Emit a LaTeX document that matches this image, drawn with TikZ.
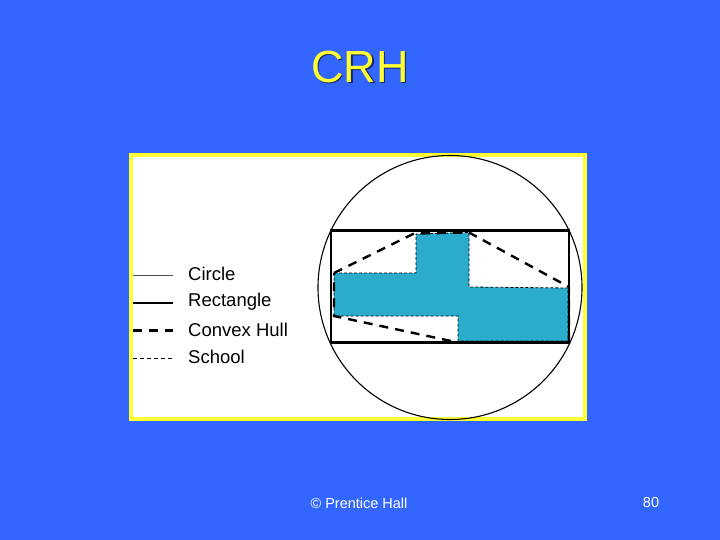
\documentclass[tikz,border=0pt]{standalone}
\usepackage{fontspec}
\setmainfont{Liberation Sans}
\definecolor{bg}{RGB}{51,102,255}
\definecolor{frameyellow}{RGB}{255,255,51}
\definecolor{school}{RGB}{43,172,204}
\begin{document}
\begin{tikzpicture}[x=1pt,y=-1pt,
  circ/.style={draw=black,line width=1.1pt},
  rectline/.style={draw=black,line width=2.6pt},
  hull/.style={draw=black,line width=2.4pt,dash pattern=on 9pt off 7pt},
  schoolline/.style={draw=black,line width=0.8pt,dash pattern=on 3pt off 2pt},
  legtext/.style={anchor=west,inner sep=0pt,font=\fontsize{18.5}{22}\selectfont},
  foot/.style={text=white,font=\fontsize{14.5}{17}\selectfont}]
\useasboundingbox (0,0) rectangle (720,540);
\fill[bg] (0,0) rectangle (720,540);
% title
\node[text=black!60!bg,font=\fontsize{45}{52}\selectfont] at (361.5,68.5) {CRH};
\node[text=frameyellow,font=\fontsize{45}{52}\selectfont] (title) at (360,67) {CRH};
% frame
\draw[fill=white,draw=frameyellow,line width=4pt] (131,155) rectangle (585,419);
% circle
\draw[circ] (450,287.5) circle (132);
% school shape
\fill[school] (334,273) -- (416,273) -- (416,234) -- (469,232.5) -- (469,287) -- (568,288) -- (568,341) -- (458,341) -- (458,316) -- (334,316) -- cycle;
\draw[schoolline] (334,273) -- (416,273) -- (416,234) -- (469,232.5) -- (469,287) -- (568,288) -- (568,341) -- (458,341) -- (458,316) -- (334,316) -- cycle;
% convex hull
\draw[hull] (334,273) -- (414,233.5) -- (469,232.5) -- (569,287) -- (569,342.5) -- (458,342.5) -- (334,316) -- cycle;
% rectangle
\draw[rectline] (331,230.5) rectangle (569,342.5);
% legend
\draw[draw=black!70,line width=0.9pt] (133,275) -- (173,275);
\draw[rectline] (133,303) -- (173,303);
\draw[hull] (133,330.5) -- (173,330.5);
\draw[draw=black,line width=0.8pt,dash pattern=on 4pt off 3pt] (133,358) -- (173,358);
\node[legtext] (lcircle) at (188,274) {Circle};
\node[legtext] (lrect) at (188,302) {Rectangle};
\node[legtext] (lhull) at (188,329.5) {Convex Hull};
\node[legtext] (lschool) at (188,357) {School};
% footer
\node[foot] (copy) at (359,503) {© Prentice Hall};
\node[foot] (page) at (651,503) {80};
\end{tikzpicture}
\end{document}
